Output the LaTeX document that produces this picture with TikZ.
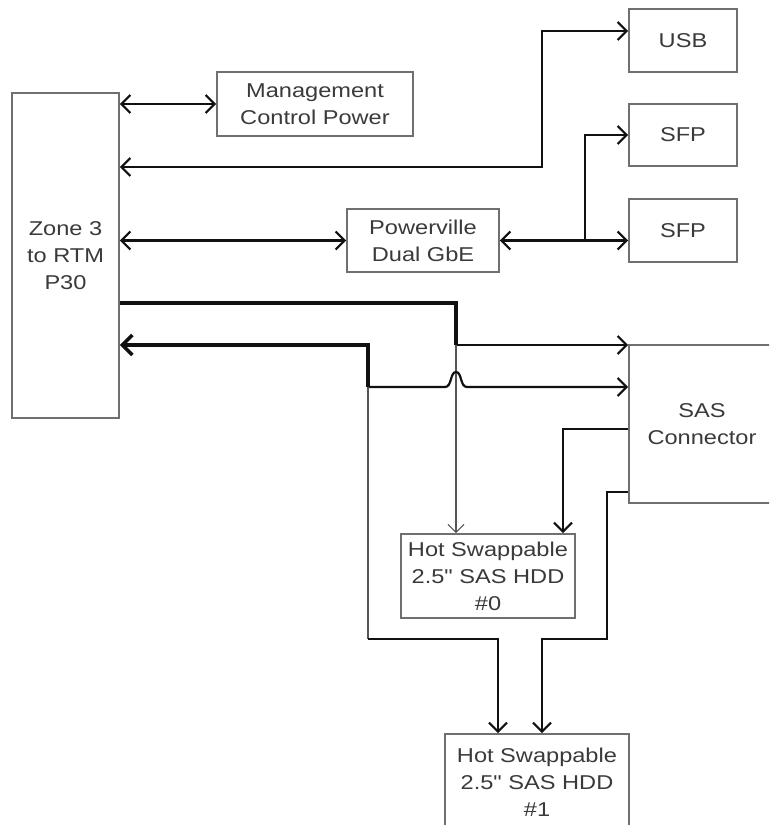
\documentclass[tikz,border=0pt]{standalone}
\usepackage{fontspec}
\newfontfamily\mainf{Liberation Sans}[FakeStretch=1.18]
\usetikzlibrary{arrows.meta}
\definecolor{boxc}{HTML}{707070}
\definecolor{txtc}{HTML}{3A3A3A}
\definecolor{thinc}{HTML}{555555}
\definecolor{linec}{HTML}{111111}
\begin{document}
\begin{tikzpicture}[x=1pt,y=-1pt,
  box/.style={draw=boxc,line width=1.6pt,rectangle,inner sep=0pt,align=center,text=txtc,
    font=\mainf\fontsize{20}{27}\selectfont},
  med/.style={draw=linec,line width=2.2pt,>={Straight Barb[length=9pt,width=18pt]}},
  thk/.style={draw=linec,line width=3.6pt,>={Straight Barb[length=10pt,width=20pt]}},
  thn/.style={draw=thinc,line width=1.1pt,>={Straight Barb[length=8pt,width=16pt]}}]
\path[use as bounding box,clip] (0,0) rectangle (769,825);
\fill[white] (0,0) rectangle (769,825);
% nodes
\node[box,minimum width=107pt,minimum height=325pt] (zone) at (65.5,255.5) {Zone 3\\to RTM\\P30};
\node[box,minimum width=196pt,minimum height=64pt] (mgmt) at (315,104) {Management\\Control Power};
\node[box,minimum width=108pt,minimum height=63pt] (usb) at (683,40.5) {USB};
\node[box,minimum width=108pt,minimum height=62pt] (sfpa) at (683,135) {SFP};
\node[box,minimum width=108pt,minimum height=63pt] (sfpb) at (683,230.5) {SFP};
\node[box,minimum width=152pt,minimum height=63pt] (pv) at (423,240.5) {Powerville\\Dual GbE};
\node[box,minimum width=146pt,minimum height=158pt] (sas) at (702,424) {SAS\\Connector};
\node[box,minimum width=174pt,minimum height=84pt] (hdda) at (488,576) {Hot Swappable\\2.5" SAS HDD\\\#0};
\node[box,minimum width=184pt,minimum height=96pt] (hddb) at (537,782) {Hot Swappable\\2.5" SAS HDD\\\#1};
% coordinates
\coordinate (u1) at (542,167);
\coordinate (u2) at (542,31);
\coordinate (br) at (585,240.5);
\coordinate (t1) at (456,303);
\coordinate (t2) at (456,345);
\coordinate (r1) at (368,345);
\coordinate (r2) at (368,387);
\coordinate (h1) at (445,387);
\coordinate (h2) at (467,387);
\coordinate (s1) at (563,429);
\coordinate (s2) at (607,492);
\coordinate (s3) at (542,639);
\coordinate (l1) at (368,639);
\coordinate (l2) at (498,639);
% connectors
\draw[med,<->] (zone.east |- mgmt.west) -- (mgmt.west);
\draw[med,<->] (zone.east |- u1) -- (u1) -- (u2) -- (usb.west |- u2);
\draw[med,<->] (zone.east |- pv.west) -- (pv.west);
\draw[med,<->] (pv.east) -- (pv.east -| sfpb.west);
\draw[med,->] (br) |- (sfpa.west);
% SAS bus
\draw[thk] (zone.east |- t1) -- (t1) -- (t2);
\draw[med,->] (t2) -- (t2 -| sas.west);
\draw[thn,->] (t2) -- (t2 |- hdda.north);
\draw[thk,->] (r2) -- (r1) -- (zone.east |- r1);
\draw[med,->] (r2) -- (h1) .. controls (452,387) and (450,372) .. (456,372)
  .. controls (462,372) and (460,387) .. (h2) -- (r2 -| sas.west);
\draw[thn] (r2) -- (l1);
\draw[med,->] (l1) -- (l2) -- (l2 |- hddb.north);
\draw[med,->] (sas.west |- s1) -- (s1) -- (s1 |- hdda.north);
\draw[med,->] (sas.west |- s2) -- (s2) |- (s3) -- (s3 |- hddb.north);
\end{tikzpicture}
\end{document}
